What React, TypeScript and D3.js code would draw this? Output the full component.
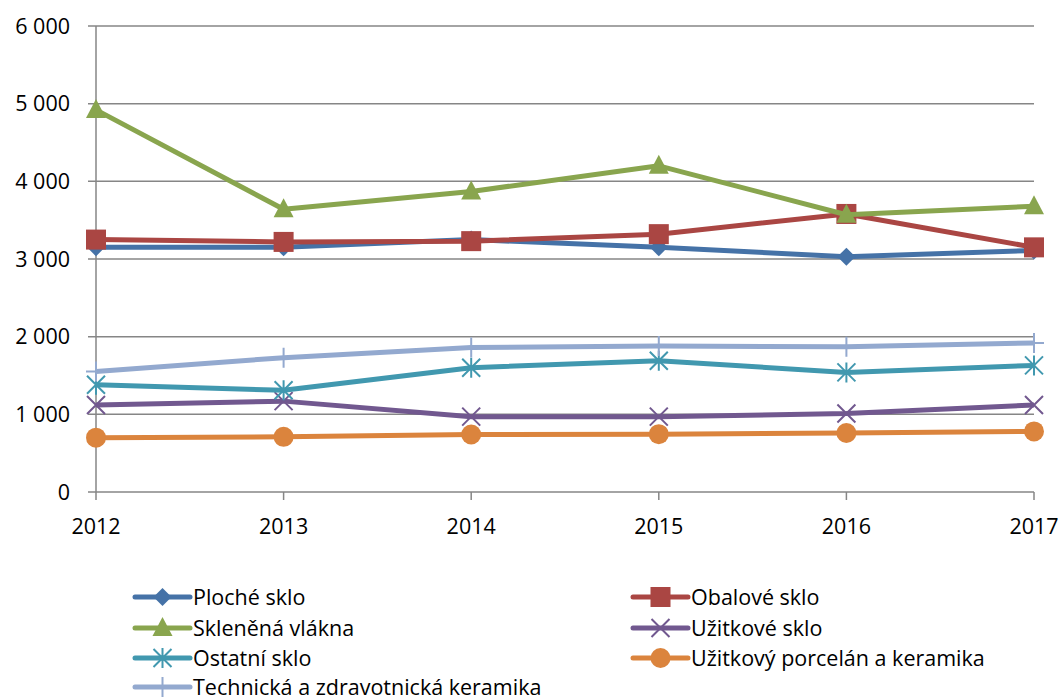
import React from 'react';
import * as d3 from 'd3';

const years = ['2012', '2013', '2014', '2015', '2016', '2017'];

const plocheSklo = [3150, 3150, 3250, 3150, 3030, 3110];
const obaloveSklo = [3250, 3220, 3230, 3320, 3580, 3150];
const sklenenaVlakna = [4920, 3640, 3870, 4200, 3570, 3680];
const uzitkoveSklo = [1120, 1170, 970, 970, 1010, 1120];
const ostatniSklo = [1380, 1310, 1600, 1690, 1540, 1630];
const porcelan = [700, 710, 740, 745, 760, 780];
const technicka = [1550, 1730, 1860, 1880, 1870, 1920];

const yTicks = [0, 1000, 2000, 3000, 4000, 5000, 6000];

type Marker = 'diamond' | 'square' | 'triangle' | 'x' | 'star' | 'circle' | 'plus';

const series: { name: string; values: number[]; color: string; marker: Marker }[] = [
  { name: 'Ploché sklo', values: plocheSklo, color: '#4572A7', marker: 'diamond' },
  { name: 'Obalové sklo', values: obaloveSklo, color: '#AA4643', marker: 'square' },
  { name: 'Skleněná vlákna', values: sklenenaVlakna, color: '#89A54E', marker: 'triangle' },
  { name: 'Užitkové sklo', values: uzitkoveSklo, color: '#71588F', marker: 'x' },
  { name: 'Ostatní sklo', values: ostatniSklo, color: '#4198AF', marker: 'star' },
  { name: 'Užitkový porcelán a keramika', values: porcelan, color: '#DB843D', marker: 'circle' },
  { name: 'Technická a zdravotnická keramika', values: technicka, color: '#93A9CF', marker: 'plus' },
];

const font = '"Open Sans", "Noto Sans", sans-serif';
const fontSize = 21.5;

// draws a marker centred at 0,0
const MarkerShape = ({ type, color }: { type: Marker; color: string }) => {
  switch (type) {
    case 'diamond':
      return <path d="M0,-9L9,0L0,9L-9,0Z" fill={color} />;
    case 'square':
      return <rect x={-10} y={-10} width={20} height={20} fill={color} />;
    case 'triangle':
      return <path d="M0,-11L10,8L-10,8Z" fill={color} />;
    case 'circle':
      return <circle r={10} fill={color} />;
    case 'x':
      return <path d="M-9,-9L9,9M-9,9L9,-9" stroke={color} strokeWidth={2} />;
    case 'star':
      return <path d="M-9,-9L9,9M-9,9L9,-9M0,-10L0,10" stroke={color} strokeWidth={2} />;
    case 'plus':
      return <path d="M0,-10L0,10M-10,0L10,0" stroke={color} strokeWidth={2} />;
  }
};

export default function App() {
  const width = 1063;
  const height = 700;
  const left = 96;
  const right = 1034;
  const top = 26;
  const bottom = 492;

  const x = d3.scalePoint<string>().domain(years).range([left, right]);
  const y = d3.scaleLinear().domain([0, 6000]).range([bottom, top]);
  const line = d3.line<number>().x((_, i) => x(years[i])!).y(d => y(d));
  const fmt = (v: number) => d3.format(',')(v).replace(',', ' ');

  const legendCols = [135, 633];
  const legendRows = [597, 628, 658, 687];

  return (
    <svg width={width} height={height} style={{ position: 'absolute', left: 0, top: 0 }} fontFamily={font}>
      <rect width={width} height={height} fill="#fff" />
      {yTicks.map(t => (
        <g key={t}>
          <line x1={88} x2={right} y1={y(t)} y2={y(t)} stroke="#868686" strokeWidth={1.5} />
          <text x={70} y={y(t)} dy="0.35em" textAnchor="end" fontSize={fontSize} fill="#000">{fmt(t)}</text>
        </g>
      ))}
      <line x1={left} x2={left} y1={top} y2={bottom} stroke="#868686" strokeWidth={1.5} />
      {years.map(yr => (
        <g key={yr}>
          <line x1={x(yr)} x2={x(yr)} y1={bottom} y2={500} stroke="#868686" strokeWidth={1.5} />
          <text x={x(yr)} y={526} dy="0.35em" textAnchor="middle" fontSize={fontSize} fill="#000">{yr}</text>
        </g>
      ))}
      {series.map(s => (
        <g key={s.name}>
          <path d={line(s.values) || ''} fill="none" stroke={s.color} strokeWidth={5} strokeLinejoin="round" />
          {s.values.map((v, i) => (
            <g key={i} transform={`translate(${x(years[i])},${y(v)})`}>
              <MarkerShape type={s.marker} color={s.color} />
            </g>
          ))}
        </g>
      ))}
      {series.map((s, i) => {
        const lx = legendCols[i % 2];
        const ly = legendRows[Math.floor(i / 2)];
        return (
          <g key={s.name} transform={`translate(${lx},${ly})`}>
            <line x1={0} x2={55} y1={0} y2={0} stroke={s.color} strokeWidth={5} strokeLinecap="round" />
            <g transform="translate(27.5,0)">
              <MarkerShape type={s.marker} color={s.color} />
            </g>
            <text x={58} y={0} dy="0.35em" fontSize={fontSize} fill="#000">{s.name}</text>
          </g>
        );
      })}
    </svg>
  );
}
